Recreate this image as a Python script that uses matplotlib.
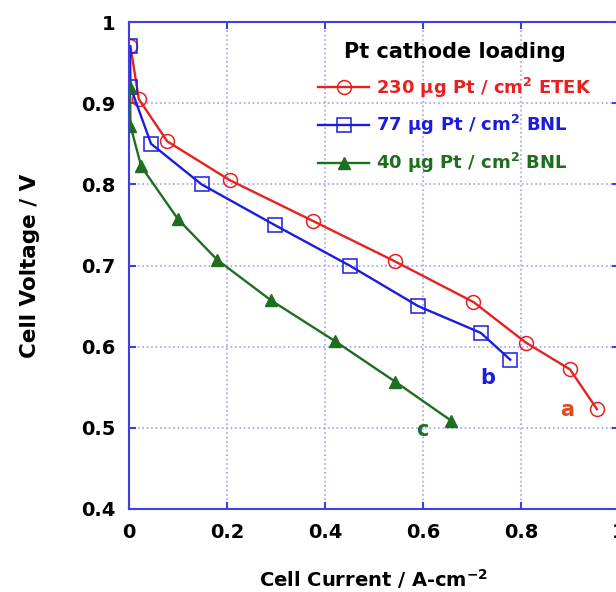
import matplotlib.pyplot as plt

plt.rcParams['font.family'] = ['DejaVu Sans']
plt.rcParams['font.weight'] = 'bold'
plt.rcParams['mathtext.default'] = 'bf'

# Curve a: 230 ug Pt/cm2 ETEK
x_a = [0.003, 0.02, 0.078, 0.206, 0.375, 0.543, 0.703, 0.81, 0.9, 0.955]
y_a = [0.97, 0.905, 0.853, 0.805, 0.755, 0.705, 0.655, 0.605, 0.572, 0.523]
# Curve b: 77 ug Pt/cm2 BNL
x_b = [0.002, 0.003, 0.045, 0.148, 0.297, 0.45, 0.59, 0.718, 0.778]
y_b = [0.97, 0.92, 0.85, 0.80, 0.75, 0.70, 0.65, 0.617, 0.584]
# Curve c: 40 ug Pt/cm2 BNL
x_c = [0.002, 0.003, 0.025, 0.10, 0.18, 0.29, 0.42, 0.543, 0.657]
y_c = [0.92, 0.872, 0.822, 0.757, 0.707, 0.657, 0.607, 0.557, 0.509]

labels = ['230 µg Pt / cm$^{2}$ ETEK',
          '77 µg Pt / cm$^{2}$ BNL',
          '40 µg Pt / cm$^{2}$ BNL']

red = '#e82020'
blue = '#1c1cdc'
green = '#1f6e1f'
spine = '#4040e0'

fig = plt.figure(figsize=(6.16, 5.92), dpi=100)
ax = fig.add_axes([129 / 616, (592 - 509) / 592, 490 / 616, 487 / 592])

ax.plot(x_a, y_a, color=red, lw=1.7, marker='o', ms=10, mfc='none', mec=red, mew=1.1, label=labels[0])
ax.plot(x_b, y_b, color=blue, lw=1.7, marker='s', ms=10, mfc='none', mec=blue, mew=1.1, label=labels[1])
ax.plot(x_c, y_c, color=green, lw=1.7, marker='^', ms=9, mfc=green, mec=green, label=labels[2])

ax.text(0.895, 0.522, 'a', color='#e04a20', fontsize=15, fontweight='bold', ha='center', va='center')
ax.text(0.733, 0.561, 'b', color=blue, fontsize=15, fontweight='bold', ha='center', va='center')
ax.text(0.598, 0.497, 'c', color=green, fontsize=15, fontweight='bold', ha='center', va='center')

ax.set_xlim(0, 1)
ax.set_ylim(0.4, 1)
ax.set_xticks([0, 0.2, 0.4, 0.6, 0.8, 1])
ax.set_xticklabels(['0', '0.2', '0.4', '0.6', '0.8', '1'])
ax.set_yticks([0.4, 0.5, 0.6, 0.7, 0.8, 0.9, 1])
ax.set_yticklabels(['0.4', '0.5', '0.6', '0.7', '0.8', '0.9', '1'])
ax.grid(True, color='#a0a0f2', linestyle=':', linewidth=1.2)
for s in ax.spines.values():
    s.set_color(spine)
    s.set_linewidth(1.5)
ax.tick_params(direction='in', length=5, width=1.5, color=spine, top=True, right=True,
               labelsize=14, pad=10)
for t in ax.get_xticklabels() + ax.get_yticklabels():
    t.set_fontweight('bold')

ax.set_xlabel('Cell Current / A-cm$^{-2}$', fontsize=14, fontweight='bold', labelpad=18)
ax.set_ylabel('Cell Voltage / V', fontsize=15.5, fontweight='bold', labelpad=29)

leg = ax.legend(loc='upper right', bbox_to_anchor=(0.97, 0.985), frameon=False,
                title='Pt cathode loading', fontsize=13, handlelength=2.8,
                handletextpad=0.4, labelspacing=0.75, borderaxespad=0.3)
leg.get_title().set_fontsize(15)
leg.get_title().set_fontweight('bold')
for txt, c in zip(leg.get_texts(), [red, blue, green]):
    txt.set_color(c)
    txt.set_fontweight('bold')

plt.savefig('out.png', dpi=100)
